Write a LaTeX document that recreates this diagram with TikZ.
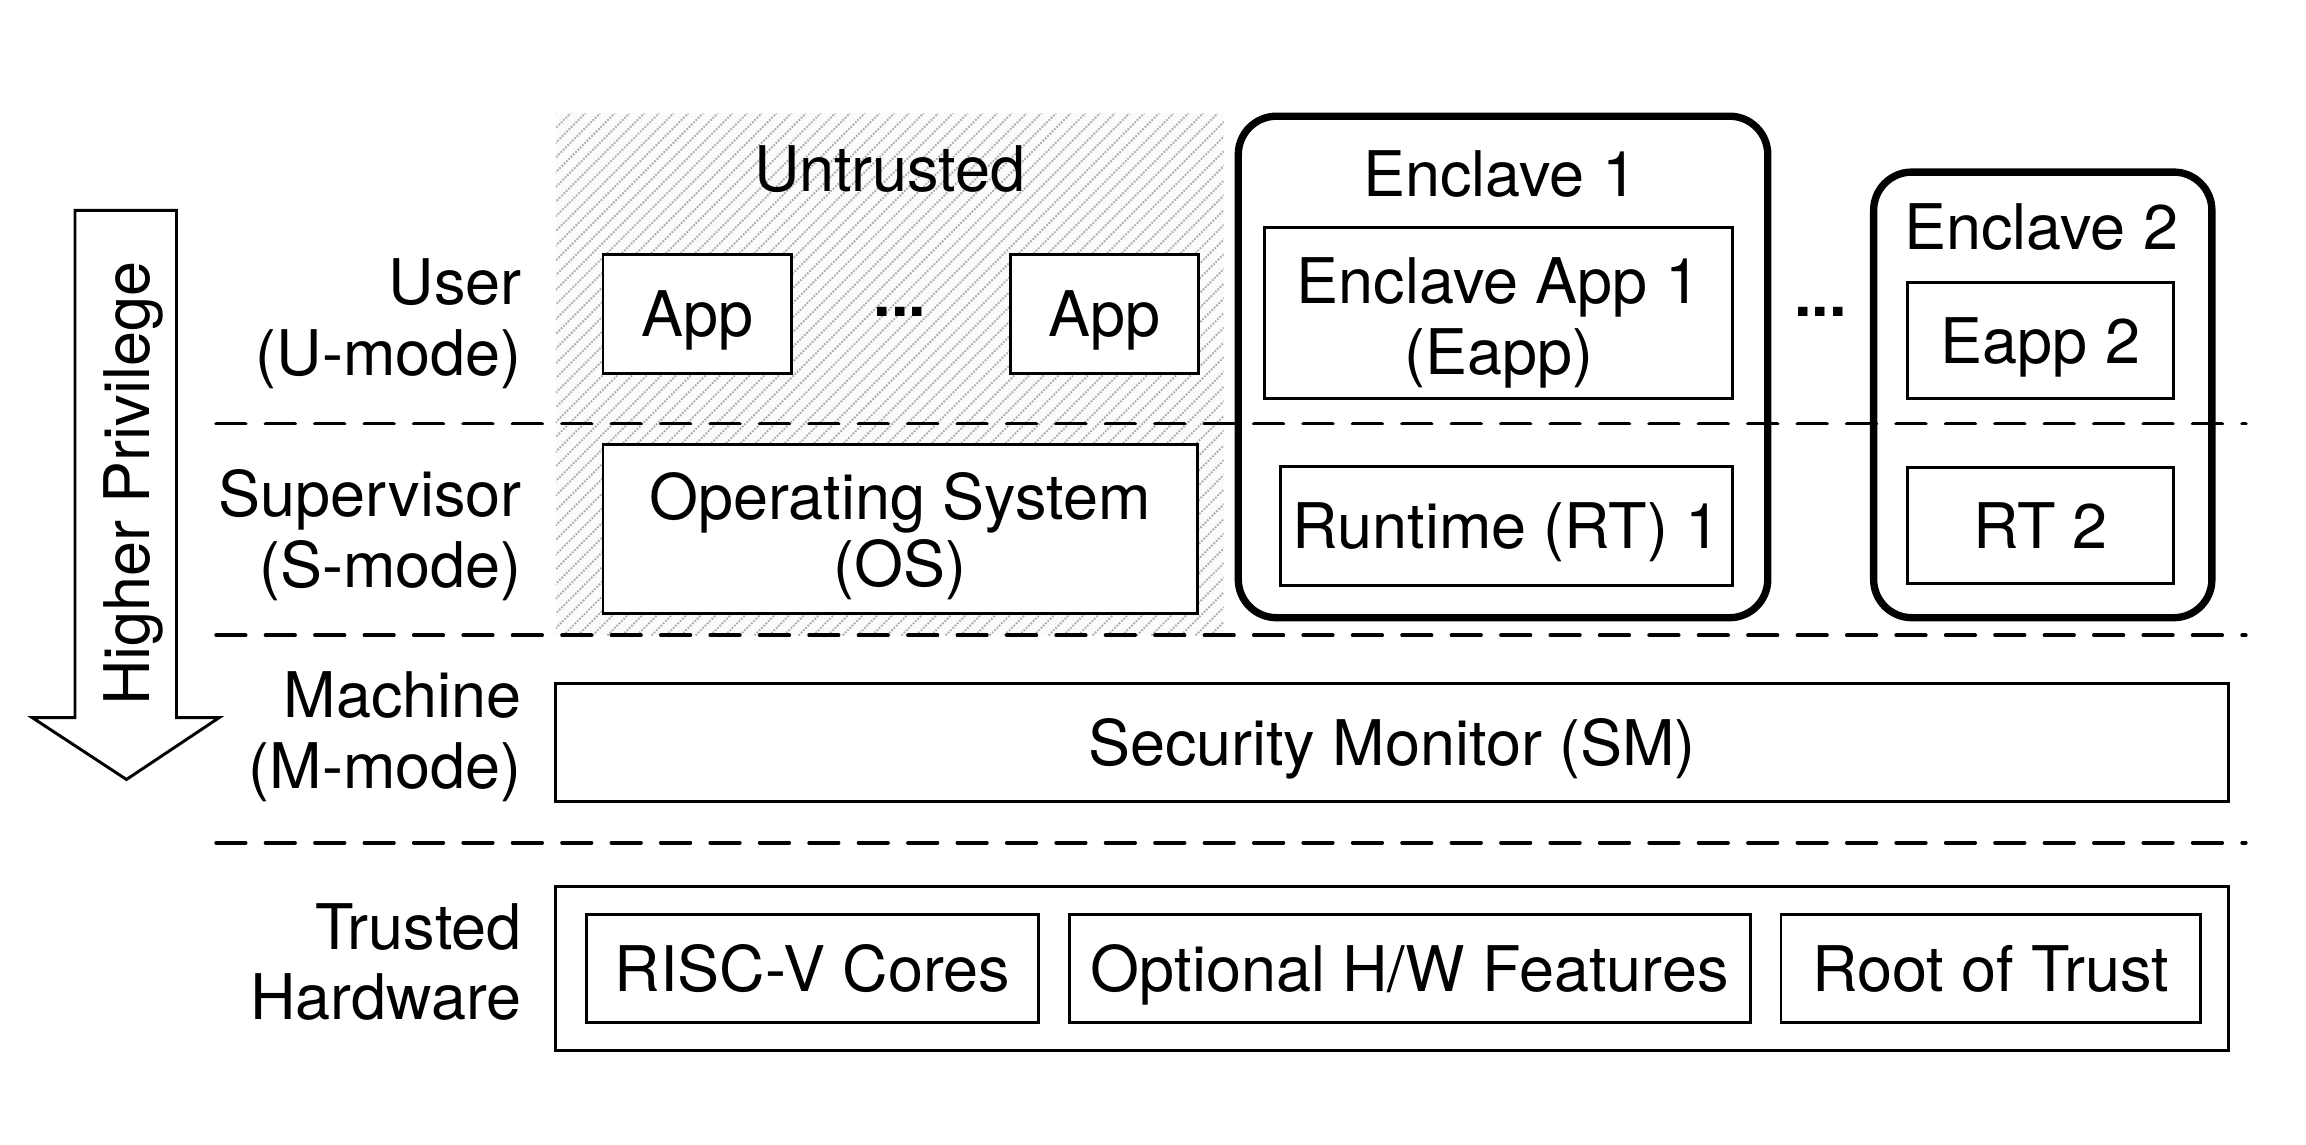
\documentclass[tikz,border=0pt]{standalone}
\usepackage{fontspec}
\setmainfont{TeX Gyre Heros}
\begin{document}
\begin{tikzpicture}[x=0.5pt,y=-0.5pt,
  font=\fontsize{21.4}{24}\selectfont,
  box/.style={draw, line width=1pt, fill=white, inner sep=0pt, align=center},
  one/.style={text height=15.4pt, text depth=0pt},
  encl/.style={draw, line width=2.5pt, rounded corners=13pt, inner sep=0pt},
  sep/.style={line width=1.3pt, dash pattern=on 10pt off 6.8pt, line cap=round},
  hatch/.style={gray!65, line width=0.65pt, dash pattern=on 0.6pt off 0.5pt},
  lab/.style={anchor=east, align=right, inner sep=0pt},
  ttl/.style={one, inner sep=0pt}]
\useasboundingbox (0,0) rectangle (1568,778);

% hatched untrusted region
\begin{scope}
  \clip (378,77) rectangle (832,432);
  \fill[gray!3] (378,77) rectangle (832,432);
  \foreach \k in {0,...,83} \draw[hatch] ({23+\k*10},432) -- ++(355,-355);
\end{scope}

% separators
\coordinate (s1a) at (147,288); \coordinate (s1b) at (1527,288);
\coordinate (s2a) at (147,432); \coordinate (s2b) at (1527,432);
\coordinate (s3a) at (147,573); \coordinate (s3b) at (1527,573);
\draw[sep] (s1a) -- (s1b);
\draw[sep] (s2a) -- (s2b);
\draw[sep] (s3a) -- (s3b);

% privilege arrow
\draw[line width=1pt, fill=white] (51,143) -- (120,143) -- (120,488) -- (149,488)
  -- (86,530) -- (22,488) -- (51,488) -- cycle;
\node[ttl, rotate=90] (hp) at (86,329) {Higher Privilege};

% mode labels
\node[lab] (lu) at (355,220) {User\\(U-mode)};
\node[lab] (ls) at (355,364) {Supervisor\\(S-mode)};
\node[lab] (lm) at (355,501) {Machine\\(M-mode)};
\node[lab] (lh) at (355,654) {Trusted\\Hardware};

% untrusted
\node[ttl] (untr) at (605,115) {Untrusted};
\node[box,one,minimum width=64pt,minimum height=40.5pt] (app1) at (474,213.5) {App};
\node[box,one,minimum width=64pt,minimum height=40.5pt] (app2) at (751,213.5) {App};
\node[anchor=base, inner sep=0pt] (dots1) at (612,215) {\textbf{...}};
\node[box,minimum width=202pt,minimum height=57.5pt,text height=44pt,text depth=4.5pt,
  font=\fontsize{21.4}{23}\selectfont] (os) at (612,359.5) {Operating System\\(OS)};

% enclave 1
\node[encl,minimum width=180pt,minimum height=170.5pt] (enc1) at (1022,249.5) {};
\node[ttl] (enc1t) at (1020,118) {Enclave 1};
\node[box,minimum width=159pt,minimum height=58pt,text height=45.9pt,text depth=4.5pt] (eapp1) at (1019,213) {Enclave App 1\\(Eapp)};
\node[box,one,minimum width=153.5pt,minimum height=40.5pt] (rt1) at (1024.5,357.5) {Runtime (RT) 1};

\node[anchor=base, inner sep=0pt] (dots2) at (1238,215) {\textbf{...}};

% enclave 2
\node[encl,minimum width=115pt,minimum height=151.5pt] (enc2) at (1389,268.5) {};
\node[ttl] (enc2t) at (1388,154) {Enclave 2};
\node[box,one,minimum width=90.5pt,minimum height=39.5pt] (eapp2) at (1387.5,231.5) {Eapp 2};
\node[box,one,minimum width=90.5pt,minimum height=39.5pt] (rt2) at (1387.5,357.5) {RT 2};

% security monitor
\node[box,one,minimum width=568.5pt,minimum height=40pt] (sm) at (946.5,505) {Security Monitor (SM)};

% hardware
\node[box,minimum width=568.5pt,minimum height=55.5pt] (hw) at (946.5,658.5) {};
\node[box,one,minimum width=153.5pt,minimum height=36.5pt] (risc) at (552.5,658.5) {RISC-V Cores};
\node[box,one,minimum width=231.5pt,minimum height=36.5pt] (opt) at (958.5,658.5) {Optional H/W Features};
\node[box,one,minimum width=142.5pt,minimum height=36.5pt] (root) at (1353.5,658.5) {Root of Trust};
\end{tikzpicture}
\end{document}
